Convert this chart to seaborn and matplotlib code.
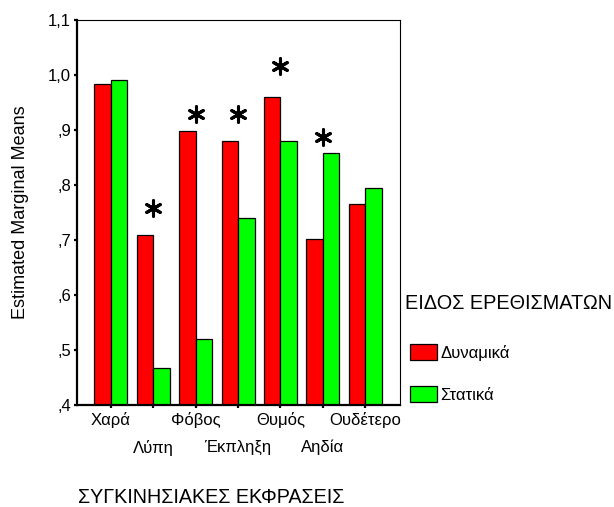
import pandas as pd
import numpy as np
import matplotlib
matplotlib.use('Agg')
import matplotlib.pyplot as plt
import seaborn as sns

sns.set_style('ticks')
plt.rcParams['font.family'] = ['Liberation Sans', 'DejaVu Sans']
plt.rcParams['text.color'] = 'black'
plt.rcParams['axes.labelcolor'] = 'black'
plt.rcParams['xtick.color'] = 'black'
plt.rcParams['ytick.color'] = 'black'

# values
emotions = ['Χαρά', 'Λύπη', 'Φόβος', 'Έκπληξη', 'Θυμός', 'Αηδία', 'Ουδέτερο']
dynamic = [0.984, 0.710, 0.899, 0.881, 0.961, 0.702, 0.766]
static = [0.991, 0.467, 0.521, 0.741, 0.881, 0.858, 0.795]
groups = ['Δυναμικά', 'Στατικά']
# significance asterisks (category, height)
sig_cats = ['Λύπη', 'Φόβος', 'Έκπληξη', 'Θυμός', 'Αηδία']
sig_y = [0.759, 0.930, 0.930, 1.016, 0.888]
yticks = [0.4, 0.5, 0.6, 0.7, 0.8, 0.9, 1.0, 1.1]

df = pd.DataFrame({
    'emotion': emotions * 2,
    'means': dynamic + static,
    'type': [groups[0]] * len(emotions) + [groups[1]] * len(emotions),
})

fig = plt.figure(figsize=(6.14, 5.07), dpi=100)
ax = fig.add_axes([77.3 / 614, 1 - 405.3 / 507, 322.4 / 614, 385.3 / 507])

sns.barplot(data=df, x='emotion', y='means', hue='type', order=emotions,
            hue_order=groups, palette=['#ff0000', '#00ff00'], width=0.78,
            edgecolor='black', linewidth=0.9, saturation=1, ax=ax)

sig_df = pd.DataFrame({'emotion': sig_cats, 'y': sig_y})
sig_df['pos'] = sig_df['emotion'].map({e: i for i, e in enumerate(emotions)})
ax.scatter(sig_df['pos'], sig_df['y'], marker=(6, 2, 0), s=125,
           color='black', linewidths=2.2, zorder=5)

ax.set_xlim(-0.79, 6.81)
ax.set_ylim(0.4, 1.1)
ax.set_yticks(yticks)
ax.set_yticklabels([('%.1f' % v).replace('.', ',').lstrip('0') for v in yticks],
                   fontsize=12)
ax.set_xticks(range(len(emotions)))
ax.set_xticklabels(emotions, fontsize=12)
for i, lab in enumerate(ax.get_xticklabels()):
    if i % 2 == 1:
        lab.set_y(-28 / 385.3)

ax.tick_params(axis='both', direction='out', length=2.5, width=1.6,
               color='black', pad=2)

for side in ['left', 'bottom']:
    ax.spines[side].set_linewidth(1.6)
for side in ['top', 'right']:
    ax.spines[side].set_linewidth(0.8)
for s in ax.spines.values():
    s.set_color('black')

ax.set_ylabel('Estimated Marginal Means', fontsize=13)
ax.yaxis.set_label_coords(-0.151, 0.5)
ax.set_xlabel('ΣΥΓΚΙΝΗΣΙΑΚΕΣ ΕΚΦΡΑΣΕΙΣ', fontsize=14.2)
ax.xaxis.set_label_coords(0.416, -0.214)

# legend title sits a little left of the patches
fig.text(405 / 614, 1 - 303.5 / 507, 'ΕΙΔΟΣ ΕΡΕΘΙΣΜΑΤΩΝ', fontsize=14.3,
         ha='left', va='center')
handles, labels = ax.get_legend_handles_labels()
ax.legend(handles, labels, fontsize=12, loc='upper left',
          bbox_to_anchor=(410 / 614, 1 - 344 / 507),
          bbox_transform=fig.transFigure, frameon=False, borderpad=0,
          borderaxespad=0, handlelength=1.62, handleheight=1.08,
          handletextpad=0.2, labelspacing=1.55)

fig.savefig('out.png', dpi=100)
